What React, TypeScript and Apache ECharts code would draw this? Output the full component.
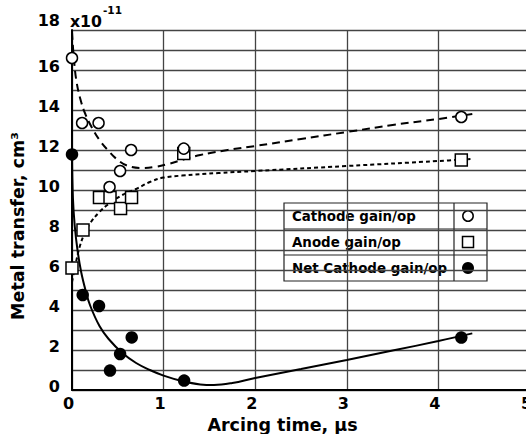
import React, { useEffect, useRef } from 'react';
import * as echarts from 'echarts';

// measured points [arcing time µs, metal transfer ×1e-11 cm³]
const cathodeGain: number[][] = [[0, 16.6], [0.11, 13.35], [0.29, 13.35], [0.41, 10.15], [0.525, 10.95], [0.645, 12.0], [1.22, 12.07], [4.25, 13.65]];
const anodeGain: number[][] = [[0, 6.1], [0.12, 8.0], [0.3, 9.63], [0.415, 9.63], [0.53, 9.08], [0.65, 9.63], [1.22, 11.82], [4.25, 11.5]];
const netCathodeGain: number[][] = [[0, 11.78], [0.117, 4.75], [0.295, 4.2], [0.415, 0.97], [0.525, 1.8], [0.652, 2.63], [1.224, 0.47], [4.25, 2.62]];

// fitted trend curves
const cathodeFit: number[][] = [[0, 17.9], [0.02, 16.6], [0.05, 15.4], [0.1, 14.4], [0.15, 13.75], [0.22, 13.1], [0.3, 12.5], [0.4, 11.95], [0.5, 11.5], [0.6, 11.22], [0.75, 11.1], [0.9, 11.15], [1.05, 11.3], [1.2, 11.5], [1.4, 11.75], [1.7, 12.0], [2.0, 12.2], [2.5, 12.55], [3.0, 12.9], [3.5, 13.25], [4.0, 13.55], [4.37, 13.8]];
const anodeFit: number[][] = [[0, 5.4], [0.04, 6.3], [0.08, 7.1], [0.13, 7.75], [0.2, 8.35], [0.3, 8.9], [0.4, 9.3], [0.55, 9.75], [0.7, 10.05], [0.85, 10.4], [1.0, 10.62], [1.2, 10.72], [1.6, 10.85], [2.0, 10.95], [3.0, 11.2], [4.0, 11.45], [4.35, 11.55]];
const netFit: number[][] = [[0, 11.8], [0.01, 9.6], [0.03, 8.2], [0.06, 7.0], [0.1, 5.9], [0.15, 4.95], [0.2, 4.2], [0.3, 3.2], [0.4, 2.55], [0.55, 1.85], [0.7, 1.35], [0.85, 1.0], [1.0, 0.72], [1.2, 0.45], [1.4, 0.28], [1.55, 0.25], [1.75, 0.35], [2.0, 0.6], [2.5, 1.05], [3.0, 1.5], [3.5, 1.97], [4.0, 2.45], [4.37, 2.83]];

const legendLabels = ['Cathode gain/op', 'Anode gain/op', 'Net Cathode gain/op'];

const FONT = "'DejaVu Sans', sans-serif";

export default function App() {
  const ref = useRef<HTMLDivElement>(null);
  useEffect(() => {
    document.body.style.margin = '0';
    const chart = echarts.init(ref.current!, null, { renderer: 'svg' });
    const lx = 284, ly = 203, lw = 203, rh = 26, colX = 454;
    const mx = 468;
    chart.setOption({
      animation: false,
      backgroundColor: '#fff',
      grid: { left: 72, top: 30, right: -4, bottom: 44, outerBoundsMode: 'none', containLabel: false },
      xAxis: {
        type: 'value', min: 0, max: 5, interval: 1,
        name: 'Arcing time, µs', nameLocation: 'middle', nameGap: 21,
        nameTextStyle: { fontSize: 17.5, fontWeight: 'bold', fontFamily: FONT, color: '#000', padding: [0, 37, 0, 0] },
        axisLine: { show: true, onZero: false, lineStyle: { color: '#000', width: 2 } },
        axisTick: { show: false },
        axisLabel: { fontSize: 16, fontWeight: 'bold', fontFamily: FONT, color: '#000', margin: 5, padding: [0, 7, 0, 0], hideOverlap: false },
        splitLine: { show: true, lineStyle: { color: '#444', width: 1.3 } },
      },
      yAxis: {
        type: 'value', min: 0, max: 18, interval: 1,
        name: 'Metal transfer, cm³', nameLocation: 'middle', nameGap: 35, nameRotate: 90,
        nameTextStyle: { fontSize: 17.5, fontWeight: 'bold', fontFamily: FONT, color: '#000', padding: [0, 32, 0, 0] },
        axisLine: { show: true, onZero: false, lineStyle: { color: '#000', width: 2 } },
        axisTick: { show: false },
        axisLabel: {
          margin: 12,
          formatter: (v: number) => (v % 2 ? '' : v === 18 ? `{t|${v}}` : `{a|${v}}`),
          rich: {
            a: { fontSize: 16, fontWeight: 'bold', fontFamily: FONT, color: '#000', padding: [0, 0, 8, 0] },
            t: { fontSize: 16, fontWeight: 'bold', fontFamily: FONT, color: '#000', padding: [0, 0, 20, 0] },
          },
        },
        splitLine: { show: true, lineStyle: { color: '#444', width: 1.3 } },
      },
      series: [
        { type: 'line', data: cathodeFit, smooth: 0.4, showSymbol: false, silent: true, z: 2,
          lineStyle: { color: '#000', width: 2, type: [8, 5] } },
        { type: 'line', data: anodeFit, smooth: 0.4, showSymbol: false, silent: true, z: 2,
          lineStyle: { color: '#000', width: 2, type: [4, 3] } },
        { type: 'line', data: netFit, smooth: 0.4, showSymbol: false, silent: true, z: 2,
          lineStyle: { color: '#000', width: 2 } },
        { type: 'scatter', name: legendLabels[1], data: anodeGain, symbol: 'rect', symbolSize: 12, z: 3,
          itemStyle: { color: '#fff', borderColor: '#000', borderWidth: 1.5, opacity: 1 } },
        { type: 'scatter', name: legendLabels[0], data: cathodeGain, symbol: 'circle', symbolSize: 11, z: 4,
          itemStyle: { color: '#fff', borderColor: '#000', borderWidth: 1.5, opacity: 1 } },
        { type: 'scatter', name: legendLabels[2], data: netCathodeGain, symbol: 'circle', symbolSize: 12.5, z: 5,
          itemStyle: { color: '#000', borderColor: '#000', borderWidth: 0, opacity: 1 } },
      ],
      graphic: [
        { type: 'text', x: 70, y: 21, style: { text: 'x10', fontSize: 15.7, fontWeight: 'bold', fontFamily: FONT, fill: '#000', verticalAlign: 'middle', align: 'left' } },
        { type: 'text', x: 103, y: 10, style: { text: '-11', fontSize: 10.5, fontWeight: 'bold', fontFamily: FONT, fill: '#000', verticalAlign: 'middle', align: 'left' } },
        {
          type: 'group', z: 100,
          children: [
            { type: 'rect', shape: { x: lx, y: ly, width: lw, height: rh * 3 }, style: { fill: '#fff', stroke: '#222', lineWidth: 1.2 } },
            { type: 'line', shape: { x1: colX, y1: ly, x2: colX, y2: ly + rh * 3 }, style: { stroke: '#222', lineWidth: 1.2 } },
            { type: 'line', shape: { x1: lx, y1: ly + rh, x2: lx + lw, y2: ly + rh }, style: { stroke: '#222', lineWidth: 1.2 } },
            { type: 'line', shape: { x1: lx, y1: ly + rh * 2, x2: lx + lw, y2: ly + rh * 2 }, style: { stroke: '#222', lineWidth: 1.2 } },
            ...legendLabels.map((t, i) => ({
              type: 'text', x: lx + 8, y: ly + rh * i + rh / 2,
              style: { text: t, fontSize: 13.4, fontWeight: 'bold', fontFamily: FONT, fill: '#000', verticalAlign: 'middle', align: 'left' },
            })),
            { type: 'circle', shape: { cx: mx, cy: ly + rh / 2, r: 5.2 }, style: { fill: '#fff', stroke: '#000', lineWidth: 1.5 } },
            { type: 'rect', shape: { x: mx - 5.5, y: ly + rh * 1.5 - 5.5, width: 11, height: 11 }, style: { fill: '#fff', stroke: '#000', lineWidth: 1.5 } },
            { type: 'circle', shape: { cx: mx, cy: ly + rh * 2.5, r: 6 }, style: { fill: '#000', stroke: '#000', lineWidth: 0 } },
          ],
        },
      ],
    });
    return () => chart.dispose();
  }, []);
  return <div ref={ref} style={{ position: 'absolute', left: 0, top: 0, width: 526, height: 434 }} />;
}
